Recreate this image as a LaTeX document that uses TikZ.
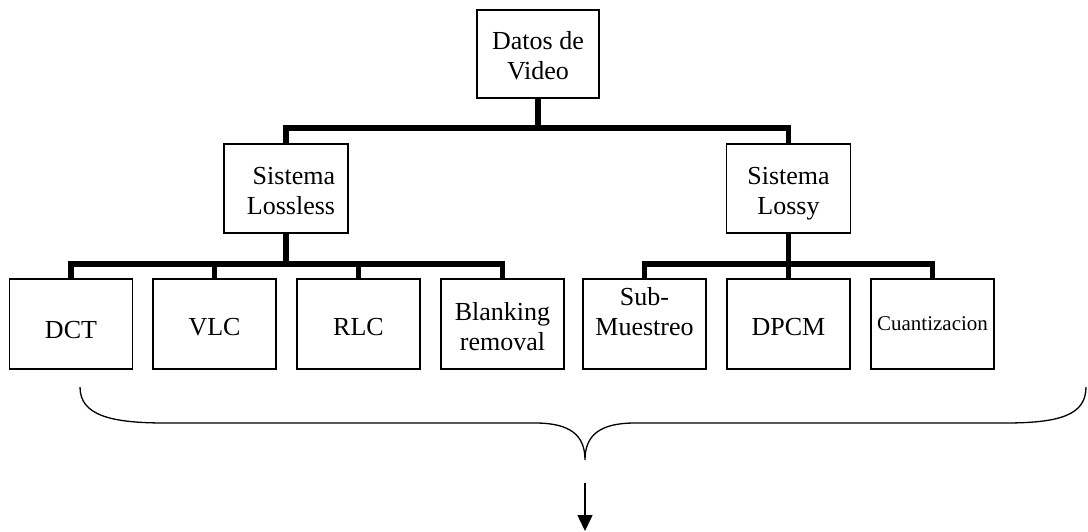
\documentclass[tikz,border=0pt]{standalone}
\usepackage{fontspec}
\setmainfont{Liberation Serif}
\usetikzlibrary{arrows.meta}

\begin{document}
\begin{tikzpicture}[x=1pt,y=-1pt,
  caja/.style={draw,line width=1.3pt,minimum width=123pt,minimum height=90pt,inner sep=0pt},
  texto/.style={font=\fontsize{26}{30}\selectfont,align=center,inner sep=0pt},
  barra/.style={line width=5.5pt}]
  \useasboundingbox (0,0) rectangle (1088,531);
  % cajas
  \node[caja,minimum width=122pt,minimum height=88pt] (datos) at (538,54) {};
  \node[caja,minimum width=124pt,minimum height=89pt] (lossless) at (286,188.5) {};
  \node[caja,minimum width=124pt,minimum height=89pt] (lossy) at (788.5,188.5) {};
  \node[caja] (dct) at (71,324) {};
  \node[caja] (vlc) at (214.5,324) {};
  \node[caja] (rlc) at (358.5,324) {};
  \node[caja] (blank) at (502.5,324) {};
  \node[caja] (sub) at (644.5,324) {};
  \node[caja] (dpcm) at (788.5,324) {};
  \node[caja] (cuant) at (932.5,324) {};
  % textos
  \node[texto] (tdatos) at (538,56) {Datos de\\Video};
  \node[texto,align=right] (tlossless) at (291,191) {Sistema\\Lossless};
  \node[texto] (tlossy) at (788.5,194) {Sistema\\Lossy};
  \node[texto] (tdct) at (71,330.5) {DCT};
  \node[texto] (tvlc) at (214.5,327) {VLC};
  \node[texto] (trlc) at (358.5,327) {RLC};
  \node[texto] (tblank) at (502.5,326.5) {Blanking\\removal};
  \node[texto] (tsub) at (644.5,311.5) {Sub-\\Muestreo};
  \node[texto] (tdpcm) at (788.5,327) {DPCM};
  \node[texto,font=\fontsize{21}{25}\selectfont] (tcuant) at (932.5,324) {Cuantizacion};
  % barras
  \coordinate (j1) at (538,128);
  \coordinate (j2) at (286,264);
  \coordinate (j3) at (788.5,264);
  \draw[barra] (datos.south) -- (j1);
  \draw[barra] (lossless.north) |- (j1) -| (lossy.north);
  \draw[barra] (lossless.south) -- (j2);
  \draw[barra] (dct.north) |- (j2) -| (blank.north);
  \draw[barra] (vlc.north) -- (vlc.north |- j2);
  \draw[barra] (rlc.north) -- (rlc.north |- j2);
  \draw[barra] (lossy.south) -- (j3);
  \draw[barra] (sub.north) |- (j3) -| (cuant.north);
  \draw[barra] (dpcm.north) -- (j3);
  % llave y flecha
  \coordinate (ll) at (80,387);
  \coordinate (lr) at (1086,387);
  \coordinate (punta) at (585,460);
  \coordinate (fa) at (585,483);
  \coordinate (fb) at (585,531);
  \draw[line width=1.3pt] (ll) .. controls (80,415) and (110,423) .. (165,423) -- (535,423)
    .. controls (570,423) and (585,435) .. (punta)
    .. controls (585,435) and (600,423) .. (635,423) -- (1005,423)
    .. controls (1060,423) and (1086,415) .. (lr);
  \draw[line width=1.5pt,-{Triangle[length=16pt,width=15pt]}] (fa) -- (fb);
\end{tikzpicture}
\end{document}
